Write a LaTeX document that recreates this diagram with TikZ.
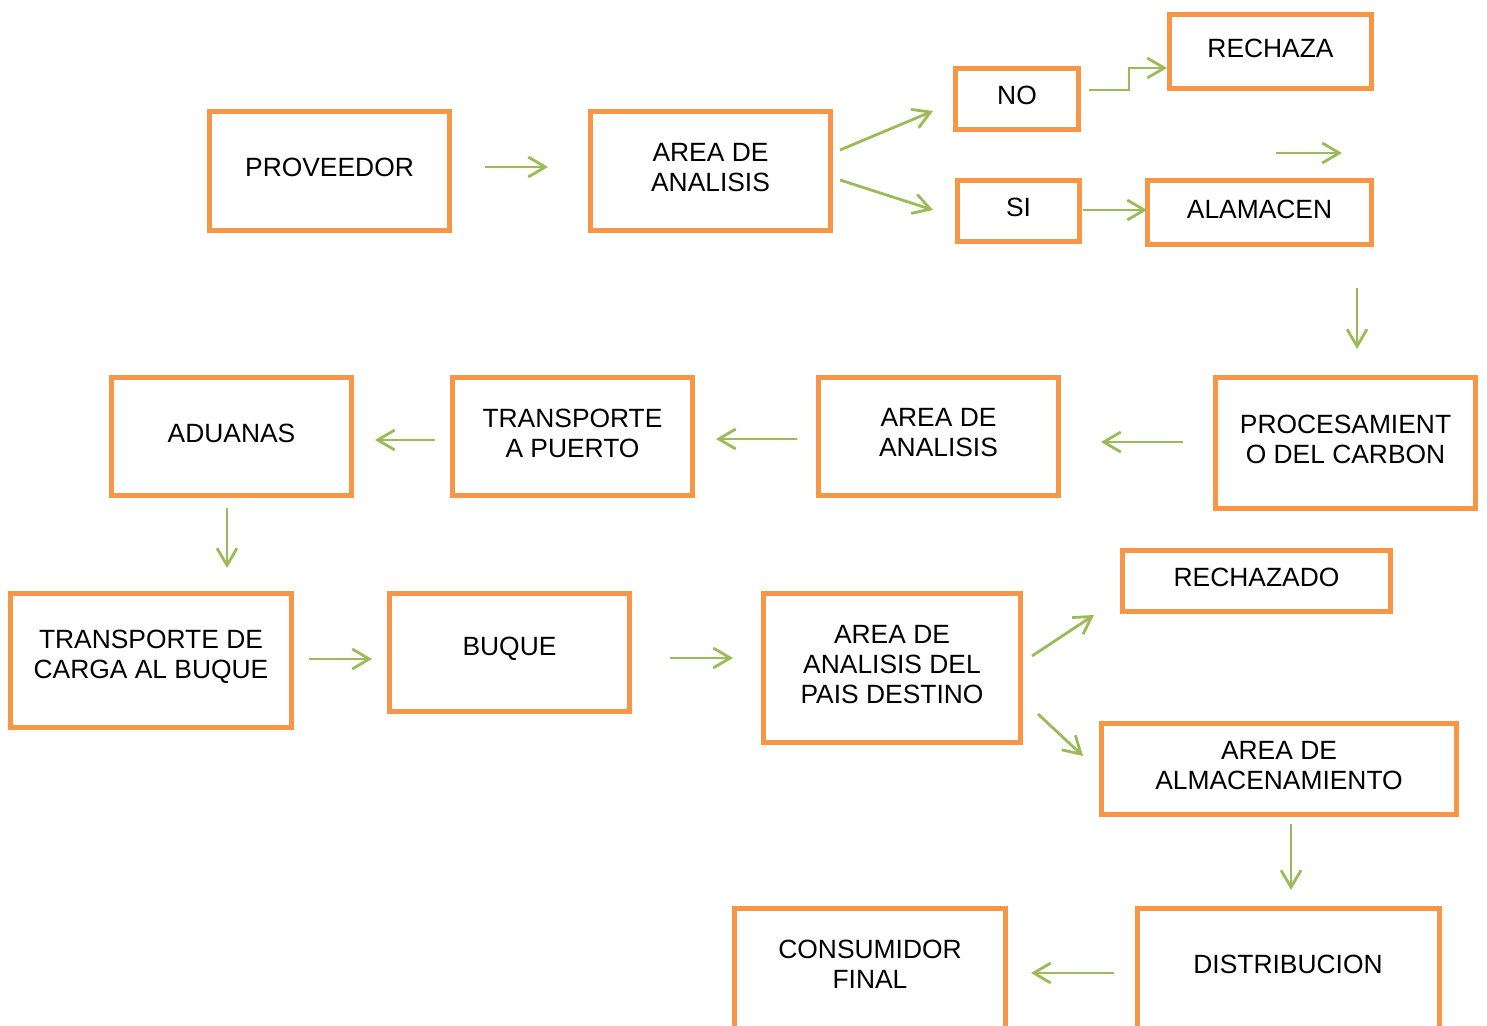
\documentclass[tikz,border=0pt]{standalone}
\usepackage{fontspec}
\setmainfont{Liberation Sans}
\usetikzlibrary{arrows.meta}
\definecolor{boxorange}{HTML}{F79646}
\definecolor{arrgreen}{HTML}{9BBB59}
\newcommand\mybox[6]{%
  \node[box, minimum width={(#4-#2-4.5)*0.5pt}, minimum height={(#5-#3-4.5)*0.5pt},
        label={[txt]center:{#6}}] (#1) at ({(#2+#4)/2},{(#3+#5)/2}) {};}
\begin{document}
\begin{tikzpicture}[x=0.5pt,y=-0.5pt,
  box/.style={draw=boxorange, line width=2.6pt, inner sep=0pt, fill=white},
  txt/.style={align=center, inner sep=0pt, font=\fontsize{13.2}{15}\selectfont, yshift=1.75pt},
  arr/.style={draw=arrgreen, line width=1.4pt, -{Straight Barb[length=8.5pt,width=10pt]}}]
\useasboundingbox (0,0) rectangle (1487,1026);
\clip (0,0) rectangle (1487,1026);

% boxes
\mybox{prov}{207}{109}{452}{233}{PROVEEDOR}
\mybox{areaA}{588}{109}{833}{233}{AREA DE\\ANALISIS}
\mybox{no}{953}{66}{1081}{132}{NO}
\mybox{rechaza}{1167}{12}{1374}{91}{RECHAZA}
\mybox{si}{955}{178}{1082}{244}{SI}
\mybox{alamacen}{1145}{178}{1374}{247}{ALAMACEN}
\mybox{proc}{1213}{375}{1478}{511}{PROCESAMIENT\\O DEL CARBON}
\mybox{areaB}{816}{375}{1061}{498}{AREA DE\\ANALISIS}
\mybox{tpuerto}{450}{375}{695}{498}{TRANSPORTE\\A PUERTO}
\mybox{aduanas}{109}{375}{354}{498}{ADUANAS}
\mybox{tcarga}{8}{591}{294}{730}{TRANSPORTE DE\\CARGA AL BUQUE}
\mybox{buque}{387}{591}{632}{714}{BUQUE}
\mybox{destino}{761}{591}{1023}{745}{AREA DE\\ANALISIS DEL\\PAIS DESTINO}
\mybox{rechazado}{1120}{548}{1393}{614}{RECHAZADO}
\mybox{almac}{1099}{721}{1459}{817}{AREA DE\\ALMACENAMIENTO}
\node[box, minimum width={(1008-732-4.5)*0.5pt}, minimum height={(1100-906-4.5)*0.5pt}] (consumidor) at ({(732+1008)/2},{(906+1100)/2}) {};
\node[txt, yshift=-1.75pt] (consumidortxt) at (870,964) {CONSUMIDOR\\FINAL};
\node[box, minimum width={(1442-1135-4.5)*0.5pt}, minimum height={(1100-906-4.5)*0.5pt}] (distrib) at ({(1135+1442)/2},{(906+1100)/2}) {};
\node[txt, yshift=-1.75pt] (distribtxt) at (1288,964) {DISTRIBUCION};

% connector end points
\coordinate (a1s) at (485,167);  \coordinate (a1e) at (548,167);
\coordinate (a2s) at (840,150);  \coordinate (a2e) at (933,111);
\coordinate (a3s) at (840,180);  \coordinate (a3e) at (933,210);
\coordinate (a4s) at (1089,90);  \coordinate (a4m) at (1129,90); \coordinate (a4n) at (1129,68); \coordinate (a4e) at (1167,68);
\coordinate (a5s) at (1276,153); \coordinate (a5e) at (1342,153);
\coordinate (a6s) at (1083,210); \coordinate (a6e) at (1147,210);
\coordinate (a7s) at (1357,288); \coordinate (a7e) at (1357,349);
\coordinate (a8s) at (1183,442); \coordinate (a8e) at (1101,442);
\coordinate (a9s) at (797,439);  \coordinate (a9e) at (716,439);
\coordinate (a10s) at (435,440); \coordinate (a10e) at (375,440);
\coordinate (a11s) at (227,508); \coordinate (a11e) at (227,568);
\coordinate (a12s) at (309,659); \coordinate (a12e) at (372,659);
\coordinate (a13s) at (670,658); \coordinate (a13e) at (733,658);
\coordinate (a14s) at (1032,656); \coordinate (a14e) at (1094,615);
\coordinate (a15s) at (1038,714); \coordinate (a15e) at (1083,756);
\coordinate (a16s) at (1291,824); \coordinate (a16e) at (1291,890);
\coordinate (a17s) at (1114,973); \coordinate (a17e) at (1031,973);

% connectors
\draw[arr] (a1s) -- (a1e);
\draw[arr] (a2s) -- (a2e);
\draw[arr] (a3s) -- (a3e);
\draw[arr] (a4s) -- (a4m) -- (a4n) -- (a4e);
\draw[arr] (a5s) -- (a5e);
\draw[arr] (a6s) -- (a6e);
\draw[arr] (a7s) -- (a7e);
\draw[arr] (a8s) -- (a8e);
\draw[arr] (a9s) -- (a9e);
\draw[arr] (a10s) -- (a10e);
\draw[arr] (a11s) -- (a11e);
\draw[arr] (a12s) -- (a12e);
\draw[arr] (a13s) -- (a13e);
\draw[arr] (a14s) -- (a14e);
\draw[arr] (a15s) -- (a15e);
\draw[arr] (a16s) -- (a16e);
\draw[arr] (a17s) -- (a17e);
\end{tikzpicture}
\end{document}
